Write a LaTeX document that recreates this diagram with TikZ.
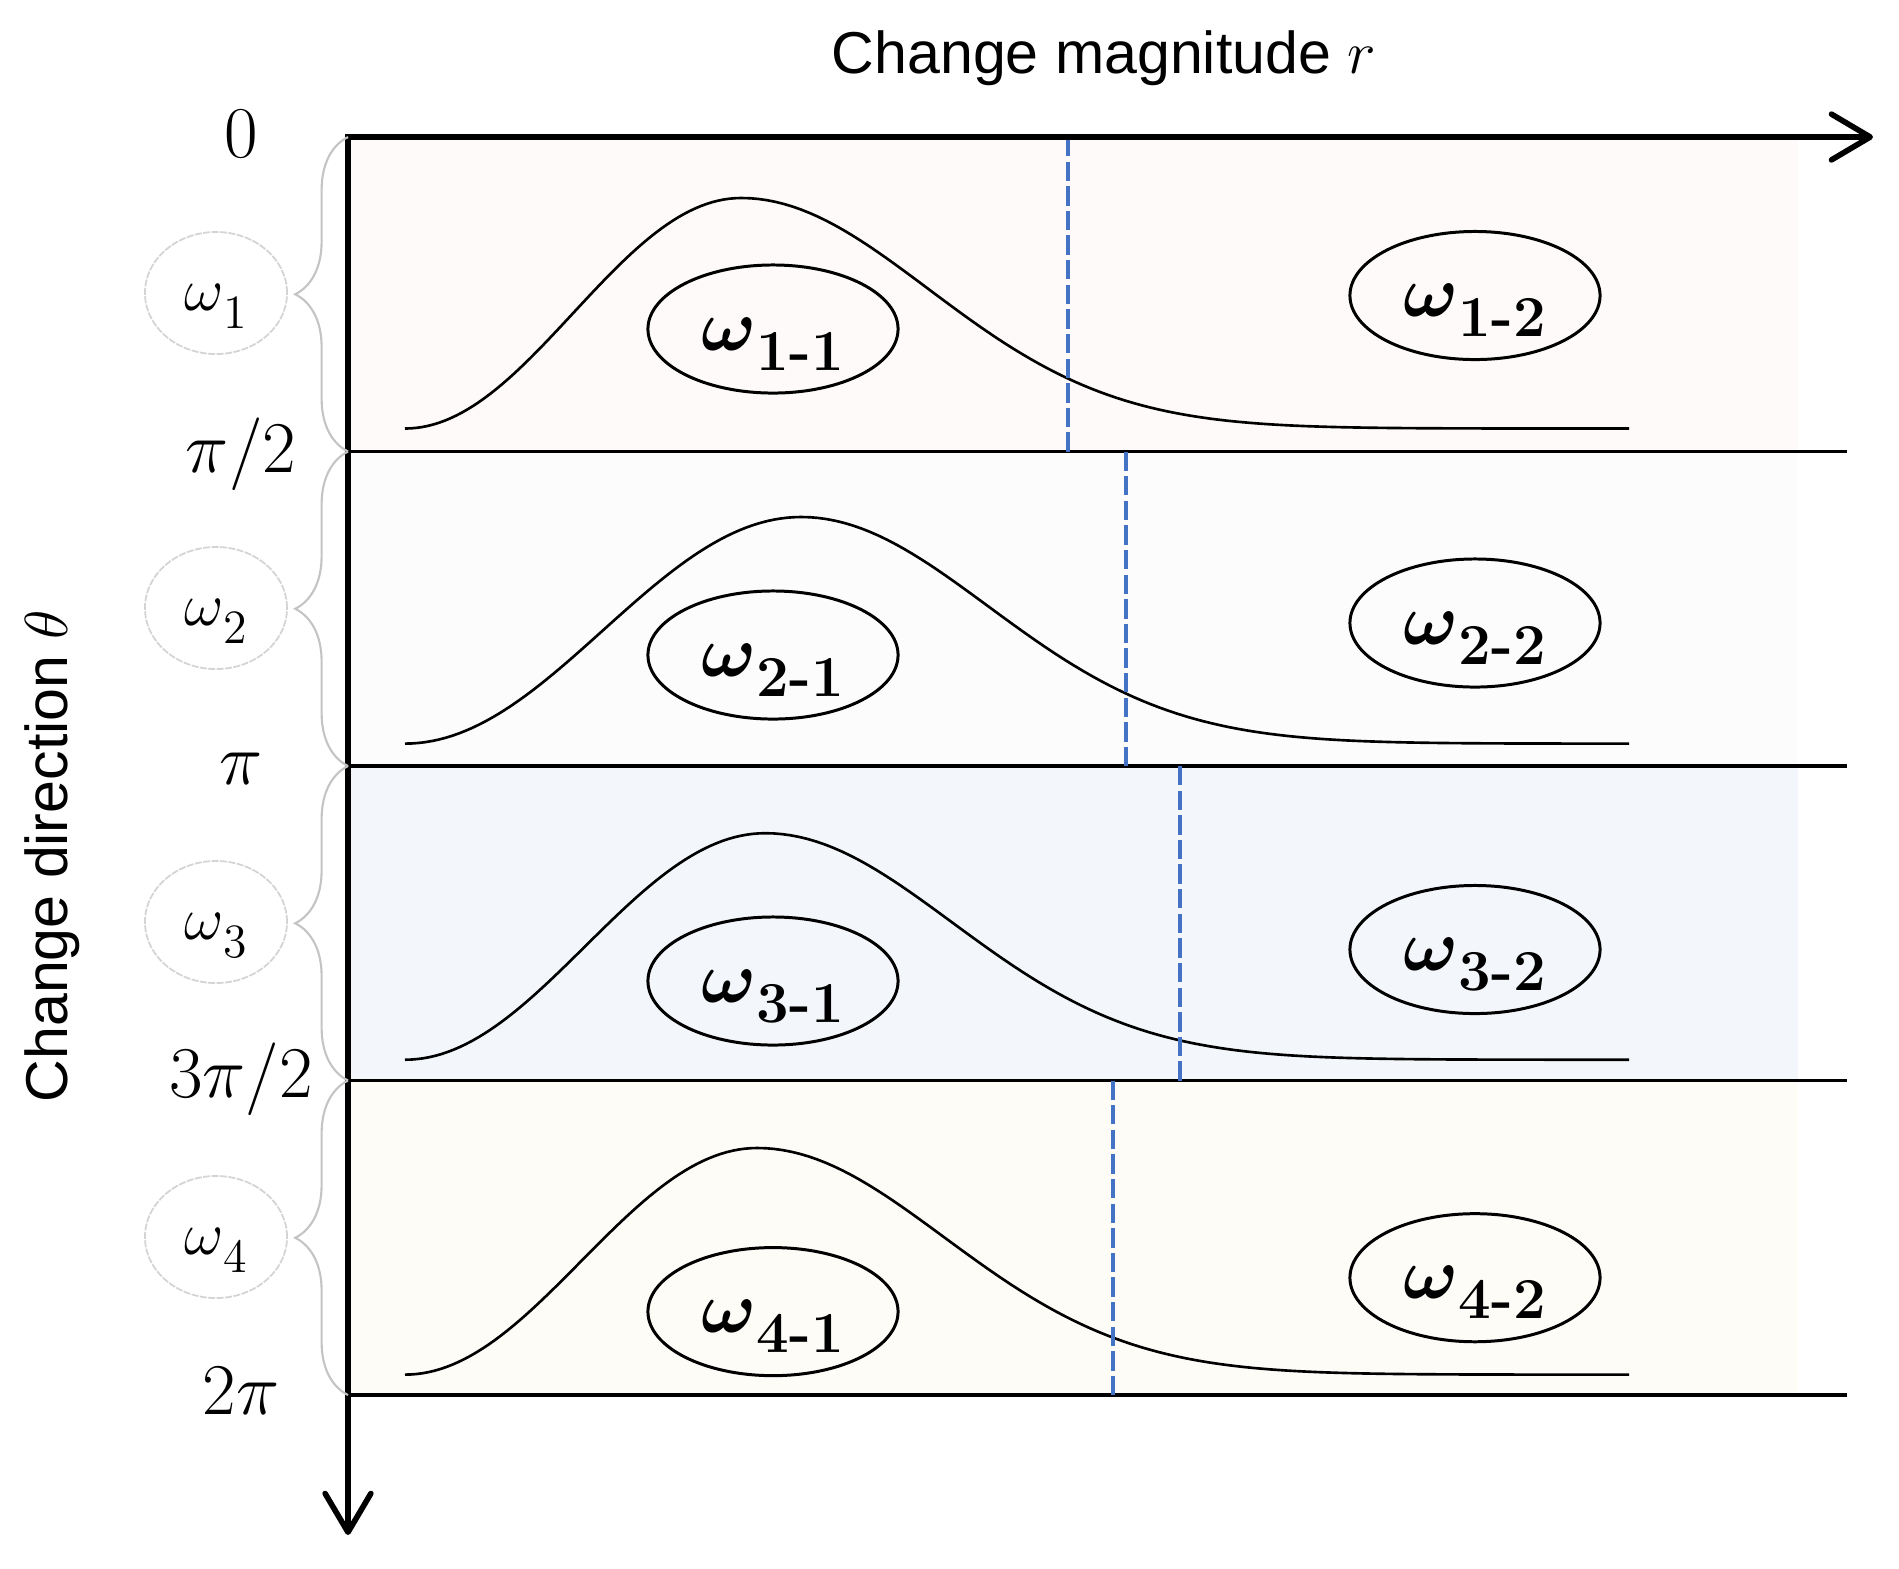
\documentclass[tikz,border=0pt]{standalone}
\usepackage{amsmath}
\usepackage{bm}
\usepackage{fontspec}
\setsansfont{Liberation Sans}
\usetikzlibrary{arrows.meta,decorations.pathreplacing,shapes.geometric}
\definecolor{bandA}{HTML}{FDFAF9}
\definecolor{bandB}{HTML}{FBFCFB}
\definecolor{bandC}{HTML}{F3F7FC}
\definecolor{bandD}{HTML}{FDFCF7}
\definecolor{dashblue}{HTML}{4472C4}
\definecolor{bracegray}{HTML}{C4C4C4}
\definecolor{circgray}{HTML}{D4D4D4}
% #1 peak x, #2 peak y, #3 baseline y
\newcommand\bellcurve[3]{%
  \draw[curveline] plot[domain=405:#1,samples=60] (\x,{#3-(#3-#2)*(1-cos(180*((\x-405)/(#1-405))))/2})
    -- plot[domain=#1:#1+760,samples=90] (\x,{#3-(#3-#2)*exp(-0.5*((\x-#1)/187)^2)})
    -- (1629,#3);}
\newcommand\wbold[1]{$\bm{\omega}$\raisebox{-5.7pt}{\fontsize{16.5}{18}\selectfont\bfseries #1}}
\newcommand\wreg[1]{$\omega$\raisebox{-5.1pt}{\fontsize{13.6}{15}\selectfont #1}}
\begin{document}
\begin{tikzpicture}[x=0.01cm,y=-0.01cm,
  axisline/.style={line width=1.6pt,
    {Straight Barb[length=11pt,width=13pt,round]}-{Straight Barb[length=11pt,width=13pt,round]}},
  bandline/.style={line width=1pt,black},
  curveline/.style={line width=0.75pt,black},
  dashline/.style={draw=dashblue,line width=1pt,dash pattern=on 5.5pt off 1.5pt},
  bracestyle/.style={draw=bracegray,line width=0.6pt,decorate,decoration={brace,amplitude=15pt}},
  wcirc/.style={ellipse,draw=circgray,line width=0.5pt,dash pattern=on 2pt off 0.4pt,
    minimum width=1.42cm,minimum height=1.22cm,inner sep=0pt,
    text height=10.2pt,text depth=0pt,font=\fontsize{19}{23}\selectfont},
  wellipse/.style={ellipse,draw,line width=0.85pt,minimum width=2.5cm,minimum height=1.28cm,
    inner sep=0pt,text height=12pt,text depth=0pt,font=\fontsize{21}{25}\selectfont},
  tick/.style={anchor=base,font=\fontsize{20}{24}\selectfont},
  axlabel/.style={font=\sffamily\fontsize{16.8}{20}\selectfont}]
\useasboundingbox (0,0) rectangle (1899,1568);
% band fills
\fill[bandA] (348,137) rectangle (1798,451.5);
\fill[bandB] (348,451.5) rectangle (1798,766);
\fill[bandC] (348,766) rectangle (1798,1080.5);
\fill[bandD] (348,1080.5) rectangle (1798,1395);
% band separators
\draw[bandline] (348,451.5) -- (1847,451.5);
\draw[bandline] (348,766) -- (1847,766);
\draw[bandline] (348,1080.5) -- (1847,1080.5);
\draw[bandline] (348,1395) -- (1847,1395);
% curves
\bellcurve{741}{198}{428.5}
\bellcurve{801}{517}{743.6}
\bellcurve{765}{833.2}{1059.7}
\bellcurve{757}{1148}{1374.6}
% dashed thresholds
\draw[dashline] (1068,137) -- (1068,451.5);
\draw[dashline] (1126,451.5) -- (1126,766);
\draw[dashline] (1180,766) -- (1180,1080.5);
\draw[dashline] (1113,1080.5) -- (1113,1395);
% ellipses
\node[wellipse] (w11) at (773,329) {\wbold{1-1}};
\node[wellipse] (w12) at (1475,295.5) {\wbold{1-2}};
\node[wellipse] (w21) at (773,655) {\wbold{2-1}};
\node[wellipse] (w22) at (1475,623) {\wbold{2-2}};
\node[wellipse] (w31) at (773,981) {\wbold{3-1}};
\node[wellipse] (w32) at (1475,949.5) {\wbold{3-2}};
\node[wellipse] (w41) at (773,1311.6) {\wbold{4-1}};
\node[wellipse] (w42) at (1475,1277.7) {\wbold{4-2}};
% axes
\coordinate (O) at (348,137);
\coordinate (xend) at (1873,137);
\coordinate (yend) at (348,1535);
\draw[axisline] (xend) -- (O) -- (yend);
% braces
\draw[bracestyle] (348,451.5) -- (348,137);
\draw[bracestyle] (348,766) -- (348,451.5);
\draw[bracestyle] (348,1080.5) -- (348,766);
\draw[bracestyle] (348,1395) -- (348,1080.5);
% circles
\node[wcirc] (c1) at (216,293) {\wreg{1}};
\node[wcirc] (c2) at (216,608) {\wreg{2}};
\node[wcirc] (c3) at (216,922) {\wreg{3}};
\node[wcirc] (c4) at (216,1237) {\wreg{4}};
% tick labels
\node[tick] (t0) at (241,157) {$0$};
\node[tick] (t1) at (241,472) {$\pi/2$};
\node[tick] (t2) at (241,784) {$\pi$};
\node[tick] (t3) at (241,1097) {$3\pi/2$};
\node[tick] (t4) at (241,1414) {$2\pi$};
% axis labels
\node[axlabel] (xlab) at (1104,58) {Change magnitude $r$};
\node[axlabel,rotate=90] (ylab) at (52,856) {Change direction $\theta$};
\end{tikzpicture}
\end{document}
